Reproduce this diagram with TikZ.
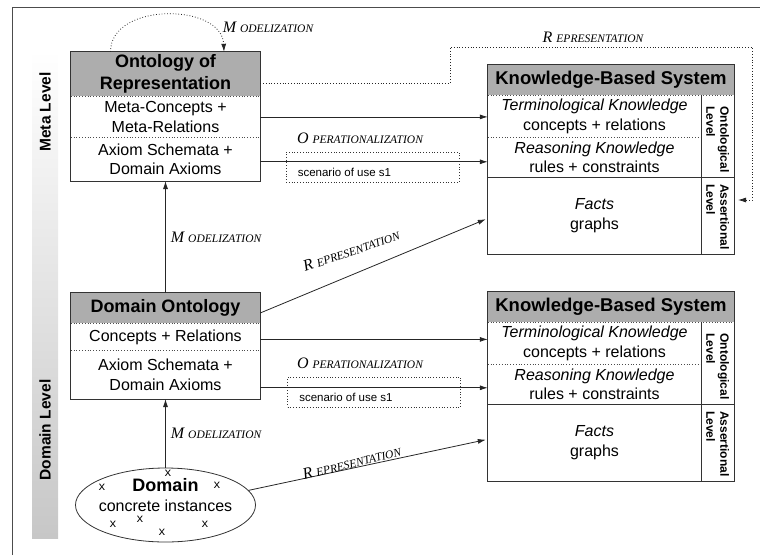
\documentclass[tikz,border=0pt]{standalone}
\usepackage{fontspec}
\setmainfont{Liberation Sans}
\newfontfamily\labelSerif{Liberation Serif}
\newfontfamily\markMono{Liberation Mono}
\usetikzlibrary{arrows.meta,positioning,shapes.geometric}
\newcommand{\fsz}[2]{\fontsize{#1}{#2}\selectfont}
\newcommand{\capLabel}[2]{{\labelSerif\itshape\fsz{16}{18}#1\hspace{4pt}\fsz{11.5}{13}#2}}

\tikzset{
  boxLine/.style={draw=black!80, line width=0.8pt},
  sepLine/.style={draw=black!70, dotted, line width=0.8pt},
  hdrCell/.style={fill=black!32, inner sep=0pt, align=center, font=\bfseries\fsz{18}{21.5}},
  rowCell/.style={inner sep=0pt, align=center, font=\fsz{16}{19.5}},
  lvlText/.style={inner sep=0pt, align=left, font=\bfseries\fsz{12}{14}, rotate=-90, anchor=west},
  flowArrow/.style={draw=black!85, line width=0.8pt, -{Latex[length=8pt,width=5pt]}},
  dotArrow/.style={draw=black!85, line width=0.8pt, dotted, -{Latex[length=8pt,width=5pt]}},
  scenBox/.style={draw=black!80, dotted, line width=0.8pt, minimum width=173pt, minimum height=30pt, inner sep=0pt},
  scenText/.style={inner sep=0pt, font=\fsz{11.5}{14}, anchor=west},
  flowLabel/.style={inner sep=2pt},
  xMark/.style={inner sep=0pt, font=\markMono\fsz{12}{14}},
  levelTitle/.style={inner sep=0pt, font=\bfseries\fsz{15.5}{18}, rotate=90}
}

\begin{document}
\begin{tikzpicture}[x=1pt, y=-1pt]
\useasboundingbox (0,0) rectangle (760,555);
% frame and level bar
\draw[black!70, line width=0.8pt] (12,555) -- (12,7) -- (760,7);
\shade[top color=white, bottom color=black!22] (32,50) rectangle (58,538);
\node[levelTitle] (metaLbl) at (45,112) {Meta Level};
\node[levelTitle] (domainLbl) at (45,430) {Domain Level};

% ontology of representation
\node[hdrCell, minimum width=189pt, minimum height=44pt] (orepH) at (165.5,74) {Ontology of\\Representation};
\node[rowCell, minimum width=189pt, minimum height=41pt, below=0pt of orepH] (orepA) {Meta-Concepts +\\Meta-Relations};
\node[rowCell, minimum width=189pt, minimum height=43pt, below=0pt of orepA] (orepB) {Axiom Schemata +\\Domain Axioms};
\draw[sepLine] (orepH.south west) -- (orepH.south east);
\draw[sepLine] (orepA.south west) -- (orepA.south east);
\draw[boxLine] (orepH.north west) rectangle (orepB.south east);

% domain ontology
\node[hdrCell, minimum width=189pt, minimum height=30pt] (domH) at (165.5,308) {Domain Ontology};
\node[rowCell, minimum width=189pt, minimum height=27pt, below=0pt of domH] (domA) {Concepts + Relations};
\node[rowCell, minimum width=189pt, minimum height=48pt, below=0pt of domA] (domB) {Axiom Schemata +\\Domain Axioms};
\draw[sepLine] (domH.south west) -- (domH.south east);
\draw[sepLine] (domA.south west) -- (domA.south east);
\draw[boxLine] (domH.north west) rectangle (domB.south east);

% domain
\node[draw=black!80, line width=0.8pt, ellipse, minimum width=180pt, minimum height=74pt, inner sep=0pt] (dom) at (165.5,505) {};
\node[align=center, inner sep=0pt, font=\fsz{16}{20}] (domText) at (165.5,495) {{\bfseries\fsz{18}{20}Domain}\\concrete instances};
\foreach \mx/\my [count=\i] in {102/487, 168/473, 217/485, 113/524, 140/519, 162/532, 205/524}
  \node[xMark] (mark\i) at (\mx,\my) {x};

% knowledge-based systems
\foreach \kb/\yy in {kbsA/80, kbsB/307} {
  \node[hdrCell, minimum width=246pt, minimum height=30pt, font=\bfseries\fsz{18.5}{21}] (\kb-hdr) at (611,\yy) {Knowledge-Based System};
  \node[rowCell, minimum width=213pt, minimum height=42pt, anchor=north west] (\kb-term) at (\kb-hdr.south west) {\textit{Terminological Knowledge}\\concepts + relations};
  \node[rowCell, minimum width=213pt, minimum height=39pt, anchor=north] (\kb-reas) at (\kb-term.south) {\textit{Reasoning Knowledge}\\rules + constraints};
  \node[rowCell, minimum width=213pt, minimum height=77pt, anchor=north] (\kb-fact) at (\kb-reas.south) {\textit{Facts}\\graphs};
  \node[lvlText] (\kb-ont) at ([xshift=16.5pt, yshift=-11pt]\kb-term.north east) {Ontological\\Level};
  \node[lvlText] (\kb-ass) at ([xshift=16.5pt, yshift=-7pt]\kb-fact.north east) {Assertional\\Level};
  \draw[sepLine] (\kb-hdr.south west) -- (\kb-hdr.south east);
  \draw[sepLine] (\kb-term.south west) -- (\kb-term.south east);
  \draw[boxLine] (\kb-fact.north west) -- (\kb-fact.north west -| \kb-hdr.east);
  \draw[boxLine] (\kb-term.north east) -- (\kb-fact.south east);
  \draw[boxLine] (\kb-hdr.north west) rectangle (\kb-fact.south east -| \kb-hdr.east);
}

% scenarios
\node[scenBox] (scenA) at (372.5,167) {};
\node[scenText] (scenAText) at ([xshift=12pt, yshift=-5pt]scenA.west) {scenario of use s1};
\node[scenBox] (scenB) at (374,392) {};
\node[scenText] (scenBText) at ([xshift=12pt, yshift=-5pt]scenB.west) {scenario of use s1};
\node[flowLabel] (opA) at (360,138) {\capLabel{O}{PERATIONALIZATION}};
\node[flowLabel] (opB) at (360,363) {\capLabel{O}{PERATIONALIZATION}};

% meta level connectors
\draw[dotArrow] ([xshift=-55pt]orepH.north) .. controls +(0,-50) and +(-2,-49) .. ([xshift=58.5pt]orepH.north);
\node[flowLabel] (modSelf) at (268,27) {\capLabel{M}{ODELIZATION}};
\coordinate (repUp) at (450,47);
\coordinate (repRight) at (752,47);
\coordinate (repEnd) at (738,200);
\draw[dotArrow] ([yshift=-9pt]orepH.east) -| (repUp) -- (repRight) |- (repEnd);
\node[flowLabel] (repTopLbl) at (593,37) {\capLabel{R}{EPRESENTATION}};
\draw[flowArrow] (orepA.east) -- (orepA.east -| kbsA-term.west);
\draw[flowArrow] ([yshift=-2.5pt]orepB.east) -- ([yshift=-4.5pt]kbsA-reas.west);

% domain level connectors
\draw[flowArrow] (domH.north) -- node[flowLabel, right=3pt] (modMid) {\capLabel{M}{ODELIZATION}} (orepB.south);
\draw[flowArrow] ([yshift=-5pt]domH.east) -- node[flowLabel, sloped, above=15pt, pos=0.44, rotate=-4] (repMid) {\capLabel{R}{EPRESENTATION}} ([xshift=-2pt, yshift=-3.5pt]kbsA-fact.west);
\draw[flowArrow] ([yshift=-2.5pt]domA.east) -- ([yshift=4pt]kbsB-term.west);
\draw[flowArrow] ([yshift=-13pt]domB.east) -- ([yshift=-3.5pt]kbsB-reas.west);
\draw[flowArrow] (dom.north) -- node[flowLabel, right=3pt] (modLow) {\capLabel{M}{ODELIZATION}} (domB.south);
\draw[flowArrow] (dom.10) -- node[sloped, above=0pt, inner sep=0pt, pos=0.44, rotate=2] (repLow) {\capLabel{R}{EPRESENTATION}} ([xshift=-2pt, yshift=3pt]kbsB-fact.west);
\end{tikzpicture}
\end{document}
